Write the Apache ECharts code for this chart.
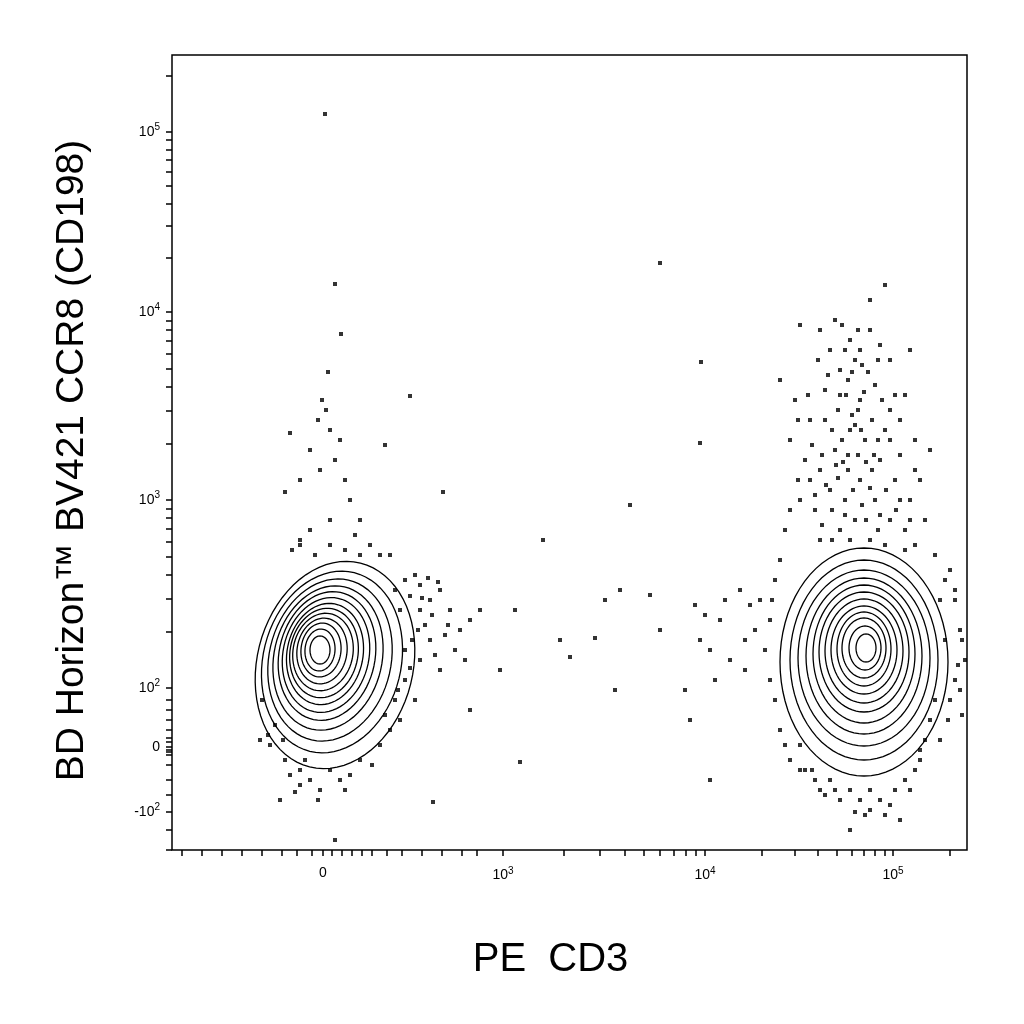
<!DOCTYPE html>
<html><head><meta charset="utf-8">
<script src="https://cdn.jsdelivr.net/npm/echarts@6/dist/echarts.min.js"></script>
<style>html,body{margin:0;padding:0;background:#fff}#c{width:1024px;height:1024px}</style>
</head><body><div id="c"></div>
<script>
// Axis units: transformed (biexponential) display scale, 0..795 across the plot.
const xTickValues=[151,331,533,721];
const xTickLabels=[['0',''],['10','3'],['10','4'],['10','5']];
const yTickValues=[38,103,162,350,538,718];
const yTickLabels=[['-10','2'],['0',''],['10','2'],['10','3'],['10','4'],['10','5']];
// events, as [x screen, y screen] of 1024 image
const scatterRaw=[[325,114],[335,284],[341,334],[328,372],[322,400],[326,410],[318,420],[330,430],[340,440],[310,450],[290,433],[385,445],[410,396],[443,492],[285,492],[300,480],[320,470],[335,460],[345,480],[350,500],[330,520],[310,530],[300,540],[360,520],[370,545],[390,555],[405,580],[420,585],[430,600],[440,590],[450,610],[460,630],[470,620],[480,610],[455,650],[465,660],[440,670],[430,640],[420,660],[415,700],[400,720],[390,730],[380,745],[360,760],[340,780],[320,790],[300,785],[280,800],[290,775],[270,745],[260,740],[335,840],[433,802],[470,710],[500,670],[515,610],[520,762],[543,540],[560,640],[570,657],[595,638],[630,505],[620,590],[615,690],[605,600],[650,595],[660,630],[685,690],[690,720],[700,640],[705,615],[695,605],[710,650],[715,680],[720,620],[725,600],[730,660],[740,590],[745,670],[710,780],[700,443],[701,362],[660,263],[410,596],[420,610],[395,590],[400,610],[412,640],[425,625],[445,635],[435,655],[405,680],[395,700],[385,715],[300,770],[310,780],[330,770],[350,775],[285,760],[275,725],[262,700],[300,545],[315,555],[345,550],[360,555],[415,575],[428,578],[438,582],[422,598],[432,615],[448,625],[418,630],[405,650],[410,668],[398,690],[380,555],[292,550],[330,545],[355,535],[305,760],[295,792],[318,800],[345,790],[372,765],[283,740],[268,735],
[885,285],[800,325],[820,330],[835,320],[850,340],[870,330],[890,360],[910,350],[780,380],[795,400],[810,420],[825,390],[840,370],[855,360],[860,400],[875,385],[890,410],[900,420],[915,440],[930,450],[790,440],[805,460],[820,470],[835,450],[850,430],[865,440],[880,460],[895,480],[910,500],[925,520],[800,500],[815,510],[830,490],[845,500],[860,480],[875,500],[890,520],[905,530],[785,530],[820,540],[840,530],[855,520],[870,540],[885,545],[915,545],[935,555],[950,570],[955,600],[960,630],[965,660],[960,690],[962,715],[945,580],[775,580],[770,620],[765,650],[775,700],[780,730],[790,760],[830,780],[850,790],[860,800],[870,810],[880,800],[895,790],[905,780],[915,770],[925,740],[930,720],[840,800],[825,795],[815,780],[850,830],[900,820],[865,815],[890,805],[760,600],[755,630],[750,605],[745,640],
[845,350],[860,350],[880,345],[848,380],[868,372],[838,410],[852,415],[872,420],[885,430],[842,440],[858,455],[872,470],[886,490],[848,470],[838,478],[862,505],[880,515],[850,540],[825,420],[812,445],[900,455],[905,395],[818,360],[830,350],[870,300],[895,395],[920,480],[810,480],[940,600],[945,640],[950,700],[955,680],[800,745],[812,770],[920,760],[935,700],
[842,325],[858,330],[878,360],[846,395],[864,392],[832,430],[855,425],[878,440],[843,462],[866,462],[853,490],[870,488],[845,515],[866,520],[878,530],[832,510],[822,455],[808,395],[828,375],[890,440],[900,500],[915,470],[882,400],[858,410],[840,395],[862,365],[852,372],[836,465],[874,455],[848,455],[861,430],[826,485],[896,510],[910,520],[798,480],[798,420],[790,510],[815,495],[822,525],[832,540],[905,550],[955,590],[962,640],[958,665],[948,720],[940,740],[780,560],[772,600],[770,680],[785,745],[800,770],[820,790],[870,790],[910,790],[885,815],[855,812],[835,790],[805,770],[920,750]];
// contour levels: [cx, cy, rx, ry, rotation deg] in image pixels
const leftContours=[[335,665,78,105,14],[332,662,69,92,14],[330,660,61,82,13],[328,658,54,73,13],[327,656,48,65,12],[326,655,43,58,12],[325,654,38,51,11],[324,653,34,45,10],[323,652,30,39,10],[322,651,25,33,8],[321,650,20,27,6],[320,650,15,21,5],[320,650,10,14,0]];
const rightContours=[[864,662,84,114,0],[864,660,74,100,0],[864,658,66,88,0],[864,656,58,78,0],[864,654,51,69,0],[864,652,45,60,0],[864,651,39,52,0],[864,650,33,44,0],[864,649,27,37,0],[864,648,22,30,0],[865,648,16,22,0],[866,648,10,14,0]];

const GL=172,GB=850;
const toU=p=>[p[0]-GL,GB-p[1]];
const scatterData=scatterRaw.map(toU);
const contourData=leftContours.concat(rightContours).map(c=>[c[0]-GL,GB-c[1],c[2],c[3],c[4]]);

const xMinor=[];
[[331,533],[533,721],[721,909]].forEach(([a,b])=>{for(let k=2;k<=9;k++)xMinor.push(a+(b-a)*Math.log10(k));});
[10,30,50,70,90,110,125,140,160,170,180,190,200,215,230,250,270,290,305].forEach(v=>xMinor.push(v));
const xTicksAll=xTickValues.concat(xMinor).filter(v=>v>=0&&v<=795);
const yMinor=[];
[[162,350],[350,538],[538,718],[718,906]].forEach(([a,b])=>{for(let k=2;k<=9;k++)yMinor.push(a+(b-a)*Math.log10(k));});
[0,20,55,70,85,95,98,100,108,112,120,130,140,150].forEach(v=>yMinor.push(v));
const yTicksAll=yTickValues.concat(yMinor).filter(v=>v>=0&&v<=795);

const rich={b:{fontSize:14,fontFamily:'Liberation Sans',color:'#000'},s:{fontSize:10,fontFamily:'Liberation Sans',color:'#000',verticalAlign:'top',padding:[0,0,9,0]}};
function fmt(vals,labels){return v=>{for(let i=0;i<vals.length;i++)if(Math.abs(v-vals[i])<0.5){const l=labels[i];return '{b|'+l[0]+'}'+(l[1]?'{s|'+l[1]+'}':'');}return '';};}

const chart=echarts.init(document.getElementById('c'));
chart.setOption({
  animation:false,
  grid:{left:GL,top:55,width:795,height:795,show:true,borderColor:'#000',borderWidth:1.5},
  xAxis:{type:'value',min:0,max:795,
    name:'PE  CD3',nameLocation:'middle',nameGap:90,nameTextStyle:{fontSize:40,fontFamily:'Liberation Sans',color:'#000',padding:[0,38,0,0]},
    axisLine:{show:false},splitLine:{show:false},
    axisTick:{show:true,inside:false,length:6,lineStyle:{color:'#000',width:1.5},customValues:xTicksAll},
    axisLabel:{customValues:xTickValues,margin:16,formatter:fmt(xTickValues,xTickLabels),rich:rich}},
  yAxis:{type:'value',min:0,max:795,
    name:'BD Horizon™ BV421 CCR8 (CD198)',nameLocation:'middle',nameGap:80,nameTextStyle:{fontSize:39,fontFamily:'Liberation Sans',color:'#000',padding:[0,16,0,0]},
    axisLine:{show:false},splitLine:{show:false},
    axisTick:{show:true,length:6,lineStyle:{color:'#000',width:1.5},customValues:yTicksAll},
    axisLabel:{customValues:yTickValues,margin:12,formatter:fmt(yTickValues,yTickLabels),rich:rich}},
  series:[
    {type:'scatter',data:scatterData,symbol:'rect',symbolSize:4,itemStyle:{color:'#000'},silent:true},
    {type:'custom',data:contourData,silent:true,
     renderItem:function(params,api){
       const c=api.coord([api.value(0),api.value(1)]);
       const rx=api.value(2),ry=api.value(3),rot=api.value(4)*Math.PI/180;
       const pts=[];
       for(let i=0;i<72;i++){const t=i/72*Math.PI*2;const ex=rx*Math.cos(t),ey=ry*Math.sin(t);
         pts.push([c[0]+ex*Math.cos(rot)-ey*Math.sin(rot),c[1]+ex*Math.sin(rot)+ey*Math.cos(rot)]);}
       return {type:'polygon',shape:{points:pts},style:{fill:'#fff',stroke:'#000',lineWidth:1.3}};
     }}
  ]
});
</script></body></html>
